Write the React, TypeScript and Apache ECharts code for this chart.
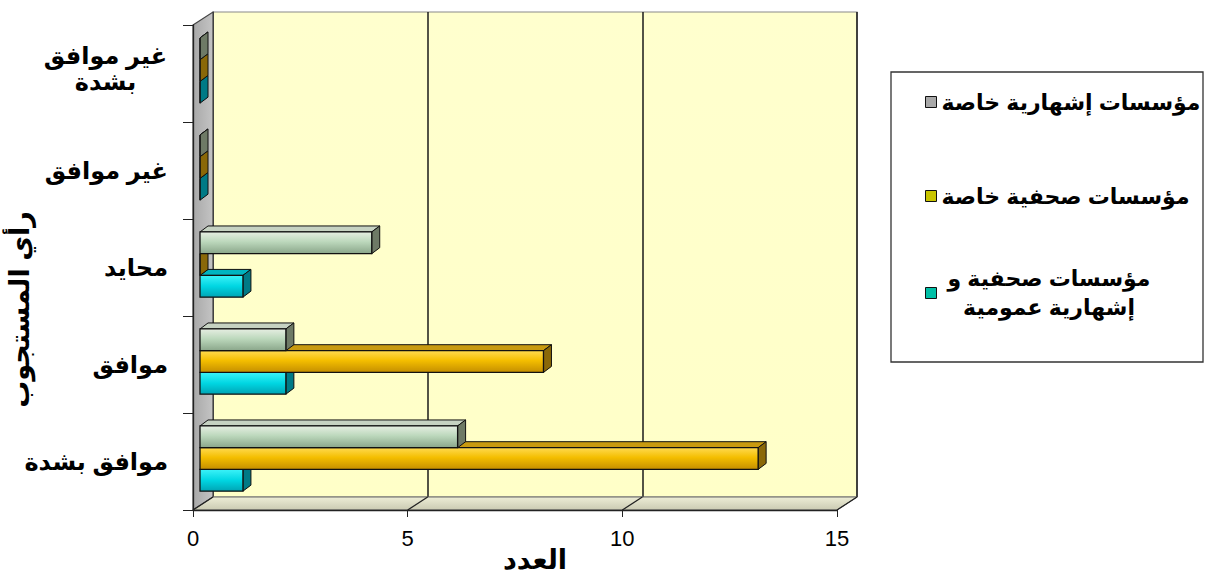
import React, { useEffect, useRef } from "react";
import * as echarts from "echarts";

// ---------- data ----------
const categories = ["موافق بشدة", "موافق", "محايد", "غير موافق", "غير موافق بشدة"];
const seriesNames = [
  "مؤسسات صحفية و\nإشهارية عمومية",
  "مؤسسات صحفية خاصة",
  "مؤسسات إشهارية خاصة",
];
const publicValues = [1, 2, 1, 0, 0];
const privatePressValues = [13, 8, 0, 0, 0];
const privateAdValues = [6, 2, 4, 0, 0];
const xTicks = [0, 5, 10, 15];
const xAxisTitle = "العدد";
const yAxisTitle = "رأي المستجوب";

// ---------- layout / style ----------
const FONT = "Arial, 'Liberation Sans', 'DejaVu Sans', sans-serif";
const FRONT = { left: 193, top: 25, width: 644, height: 485 };
const DEPTH = { dx: 20, dy: -13 };
const BAR_SHIFT = { dx: 7, dy: -4.5 };
const BAR_DEPTH = { dx: 8, dy: -6 };

const palettes = [
  {
    front: [
      [0, "#3CF2F8"],
      [0.5, "#00D6E2"],
      [1, "#00A4B4"],
    ],
    top: "#00B4C0",
    side: "#007A86",
    legend: "#00BFA6",
  },
  {
    front: [
      [0, "#FFDA50"],
      [0.45, "#F4BE00"],
      [1, "#C48E00"],
    ],
    top: "#C89A10",
    side: "#8A6808",
    legend: "#C8C400",
  },
  {
    front: [
      [0, "#E6EEE2"],
      [0.45, "#BCD8BC"],
      [1, "#8AA68A"],
    ],
    top: "#C6D2C2",
    side: "#6E7A66",
    legend: "#A8A8A8",
  },
];

const grad = (stops: any[]) =>
  new echarts.graphic.LinearGradient(
    0,
    0,
    0,
    1,
    stops.map(([offset, color]) => ({ offset, color }))
  );

function makeRender(slot: number) {
  const pal = palettes[slot];
  return (params: any, api: any) => {
    const val = api.value(0);
    const cat = api.value(1);
    const start = api.coord([0, cat]);
    const end = api.coord([val, cat]);
    const band = api.size([0, 1])[1];
    const h = band * 0.224;
    const cy = start[1] + band * 0.016 + (1 - slot) * h;
    const y0 = cy - h / 2;
    const y1 = cy + h / 2;
    const x0 = start[0];
    const x1 = end[0];
    const { dx, dy } = BAR_DEPTH;
    return {
      type: "group",
      children: [
        {
          type: "polygon",
          shape: { points: [[x0, y0], [x0 + dx, y0 + dy], [x1 + dx, y0 + dy], [x1, y0]] },
          style: { fill: pal.top, stroke: "#111", lineWidth: 1 },
        },
        {
          type: "polygon",
          shape: { points: [[x1, y0], [x1 + dx, y0 + dy], [x1 + dx, y1 + dy], [x1, y1]] },
          style: { fill: pal.side, stroke: "#111", lineWidth: 1 },
        },
        {
          type: "rect",
          shape: { x: x0, y: y0, width: x1 - x0, height: h },
          style: { fill: grad(pal.front), stroke: "#111", lineWidth: 1.3 },
        },
      ],
    };
  };
}

export default function App() {
  const ref = useRef<HTMLDivElement>(null);
  useEffect(() => {
    document.body.style.margin = "0";
    const chart = echarts.init(ref.current!, undefined, { renderer: "svg" });
    const seriesValues = [publicValues, privatePressValues, privateAdValues];

    const xMax = xTicks[xTicks.length - 1];
    const fx = (v: number) => FRONT.left + (v / xMax) * FRONT.width;
    const fBottom = FRONT.top + FRONT.height;

    const floorLines = xTicks.map((v) => ({
      type: "line",
      z: 1,
      shape: { x1: fx(v), y1: fBottom, x2: fx(v) + DEPTH.dx, y2: fBottom + DEPTH.dy },
      style: { stroke: "#222", lineWidth: 1.3 },
    }));

    const legendTops = [88, 182, 264];
    const legendOrder = [2, 1, 0];

    const option: any = {
      animation: false,
      backgroundColor: "#ffffff",
      textStyle: { fontFamily: FONT },
      grid: [
        {
          left: FRONT.left + DEPTH.dx,
          top: FRONT.top + DEPTH.dy,
          width: FRONT.width,
          height: FRONT.height,
          outerBoundsMode: "none",
          containLabel: false,
          show: true,
          backgroundColor: grad([
            [0, "#FFFFCE"],
            [1, "#FFFFC8"],
          ]),
          borderColor: "#8a8a8a",
          borderWidth: 1.2,
        },
        {
          left: FRONT.left,
          top: FRONT.top,
          width: FRONT.width,
          height: FRONT.height,
          outerBoundsMode: "none",
          containLabel: false,
        },
        {
          left: FRONT.left + BAR_SHIFT.dx,
          top: FRONT.top + BAR_SHIFT.dy,
          width: FRONT.width,
          height: FRONT.height,
          outerBoundsMode: "none",
          containLabel: false,
        },
      ],
      xAxis: [
        {
          gridIndex: 0,
          type: "value",
          min: 0,
          max: xMax,
          interval: 5,
          axisLabel: { show: false },
          axisLine: { show: false },
          axisTick: { show: false },
          splitLine: { show: true, lineStyle: { color: "#1a1a1a", width: 1.5 } },
        },
        {
          gridIndex: 1,
          type: "value",
          min: 0,
          max: xMax,
          interval: 5,
          z: 5,
          name: xAxisTitle,
          nameLocation: "middle",
          nameGap: 36,
          nameMoveOverlap: false,
          nameTextStyle: {
            fontSize: 27,
            fontWeight: "bold",
            color: "#000",
            fontFamily: FONT,
            padding: [0, 0, 0, 40],
          },
          axisLine: { show: true, lineStyle: { color: "#222", width: 1.3 } },
          axisTick: { show: true, length: 7, lineStyle: { color: "#222" } },
          axisLabel: { fontSize: 22, color: "#000", margin: 17, fontFamily: FONT },
          splitLine: { show: false },
        },
        { gridIndex: 2, type: "value", min: 0, max: xMax, interval: 5, show: false },
      ],
      yAxis: [
        { gridIndex: 0, type: "category", data: categories, show: false },
        {
          gridIndex: 1,
          type: "category",
          data: categories,
          z: 5,
          name: yAxisTitle,
          nameLocation: "middle",
          nameGap: 160,
          nameMoveOverlap: false,
          nameTextStyle: {
            fontSize: 27,
            fontWeight: "bold",
            color: "#000",
            fontFamily: FONT,
            padding: [0, 84, 0, 0],
          },
          axisLine: { show: true, lineStyle: { color: "#222", width: 1.3 } },
          axisTick: { show: true, length: 10, lineStyle: { color: "#222" } },
          axisLabel: {
            margin: 25,
            fontSize: 24,
            fontWeight: "bold",
            color: "#000",
            fontFamily: FONT,
            formatter: (v: string) => {
              if (v === "غير موافق بشدة") return "{c|غير موافق}\n{c|بشدة}";
              return v;
            },
            rich: {
              c: {
                width: 125,
                align: "center",
                fontSize: 24,
                fontWeight: "bold",
                lineHeight: 26,
                color: "#000",
                fontFamily: FONT,
                padding: [0, 0, 10, 0],
              },
            },
          },
        },
        { gridIndex: 2, type: "category", data: categories, show: false },
      ],
      legend: legendOrder.map((si, k) => ({
        data: [
          {
            name: seriesNames[si],
            itemStyle: { color: palettes[si].legend, borderColor: "#111", borderWidth: 1 },
          },
        ],
        left: 925,
        top: legendTops[k],
        orient: "vertical",
        icon: "rect",
        itemWidth: 11,
        itemHeight: 11,
        padding: 0,
        selectedMode: false,
        formatter:
          si === 0
            ? () => "{c|مؤسسات صحفية و}\n{c|إشهارية عمومية}"
            : undefined,
        textStyle: {
          fontSize: 22,
          fontWeight: "bold",
          color: "#000",
          lineHeight: 28,
          fontFamily: FONT,
          rich: {
            c: {
              width: 215,
              align: "center",
              fontSize: 22,
              fontWeight: "bold",
              lineHeight: 29,
              color: "#000",
              fontFamily: FONT,
            },
          },
        },
      })),
      graphic: [
        {
          type: "rect",
          z: 0,
          shape: { x: 891, y: 72, width: 312, height: 290 },
          style: { fill: "#fff", stroke: "#333", lineWidth: 1.3 },
        },
        // left wall
        {
          type: "polygon",
          z: 1,
          shape: {
            points: [
              [FRONT.left, FRONT.top],
              [FRONT.left + DEPTH.dx, FRONT.top + DEPTH.dy],
              [FRONT.left + DEPTH.dx, fBottom + DEPTH.dy],
              [FRONT.left, fBottom],
            ],
          },
          style: {
            fill: new echarts.graphic.LinearGradient(0, 0, 1, 0, [
              { offset: 0, color: "#A8A8A8" },
              { offset: 1, color: "#C4C4C4" },
            ]),
            stroke: "#444",
            lineWidth: 1.2,
          },
        },
        // floor
        {
          type: "polygon",
          z: 1,
          shape: {
            points: [
              [FRONT.left, fBottom],
              [FRONT.left + DEPTH.dx, fBottom + DEPTH.dy],
              [FRONT.left + FRONT.width + DEPTH.dx, fBottom + DEPTH.dy],
              [FRONT.left + FRONT.width, fBottom],
            ],
          },
          style: {
            fill: new echarts.graphic.LinearGradient(0, 0, 0, 1, [
              { offset: 0, color: "#EDEDD6" },
              { offset: 1, color: "#CACAB2" },
            ]),
            stroke: "#666",
            lineWidth: 1,
          },
        },
        ...floorLines,
      ],
      series: seriesValues.map((vals, si) => ({
        type: "custom",
        name: seriesNames[si],
        xAxisIndex: 2,
        yAxisIndex: 2,
        z: 3,
        itemStyle: { color: palettes[si].legend },
        encode: { x: 0, y: 1 },
        data: vals.map((v, i) => [v, i]),
        renderItem: makeRender(si),
      })),
    };
    chart.setOption(option);
    return () => chart.dispose();
  }, []);
  return <div ref={ref} style={{ width: 1213, height: 577 }} />;
}
